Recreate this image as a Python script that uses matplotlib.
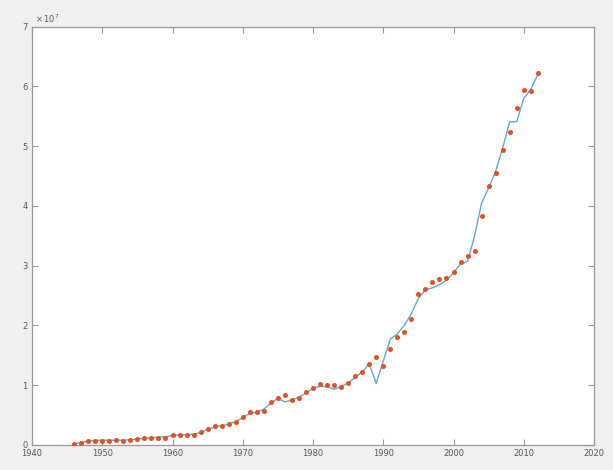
import matplotlib
matplotlib.use("Agg")
import matplotlib.pyplot as plt

# Observed data (units of 1e7)
years = list(range(1946, 2013))
observed = [0.01, 0.03, 0.06, 0.06, 0.06, 0.07, 0.09, 0.07, 0.08, 0.10,
            0.11, 0.12, 0.12, 0.12, 0.17, 0.17, 0.16, 0.17, 0.21, 0.27,
            0.31, 0.31, 0.35, 0.38, 0.47, 0.55, 0.55, 0.57, 0.72, 0.78,
            0.84, 0.76, 0.79, 0.88, 0.95, 1.02, 1.01, 1.00, 0.97, 1.04,
            1.15, 1.22, 1.36, 1.48, 1.33, 1.60, 1.80, 1.89, 2.11, 2.52,
            2.61, 2.72, 2.78, 2.80, 2.89, 3.07, 3.17, 3.25, 3.83, 4.33,
            4.55, 4.94, 5.23, 5.64, 5.94, 5.92, 6.22]

# Fitted curve (units of 1e7)
fitted = [0.02, 0.04, 0.07, 0.08, 0.08, 0.08, 0.08, 0.08, 0.09, 0.10,
          0.11, 0.12, 0.13, 0.14, 0.16, 0.17, 0.17, 0.18, 0.21, 0.26,
          0.30, 0.32, 0.35, 0.39, 0.46, 0.53, 0.55, 0.60, 0.70, 0.78,
          0.72, 0.75, 0.80, 0.87, 0.95, 0.98, 0.98, 0.93, 0.98, 1.04,
          1.13, 1.22, 1.36, 1.03, 1.40, 1.77, 1.86, 2.00, 2.20, 2.45,
          2.60, 2.63, 2.68, 2.76, 2.88, 3.03, 3.07, 3.50, 4.05, 4.30,
          4.58, 4.97, 5.41, 5.41, 5.80, 5.95, 6.20]

xticks = [1940, 1950, 1960, 1970, 1980, 1990, 2000, 2010, 2020]
yticks = [0, 1, 2, 3, 4, 5, 6, 7]

fig = plt.figure(figsize=(6.13, 4.70), dpi=100, facecolor="#f0f0f0")
ax = fig.add_axes([32/613, 25/470, 562/613, 418.3/470])
ax.set_facecolor("white")

ax.plot(years, fitted, color="#5aaae2", linewidth=1.0, zorder=2)
ax.plot(years, observed, linestyle="none", marker="o", markersize=2.6,
        markerfacecolor="#e8501e", markeredgecolor="#e8501e", zorder=3)

ax.set_xlim(1940, 2020)
ax.set_ylim(0, 7)
ax.set_xticks(xticks)
ax.set_yticks(yticks)
ax.set_xticklabels([str(t) for t in xticks])
ax.set_yticklabels([str(t) for t in yticks])

for s in ax.spines.values():
    s.set_color("#999999")
    s.set_linewidth(0.9)
ax.tick_params(direction="in", length=4, width=0.8, color="#999999",
               labelsize=6, labelcolor="#555555", top=True, right=True,
               pad=3)

ax.text(0.005, 1.003, r"$\times\,10^{7}$", transform=ax.transAxes,
        fontsize=6, color="#555555", ha="left", va="bottom")

fig.savefig("out.png", dpi=100, facecolor=fig.get_facecolor())
